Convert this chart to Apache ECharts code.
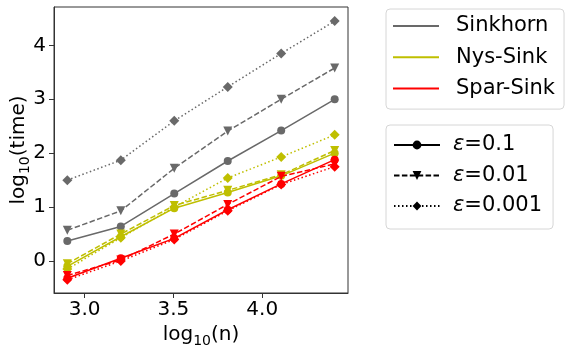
<!DOCTYPE html>
<html>
<head>
<meta charset="utf-8">
<script src="https://cdn.jsdelivr.net/npm/echarts@6/dist/echarts.min.js"></script>
<style>
html, body { margin: 0; padding: 0; background: #fff; }
#chart_time { width: 569px; height: 355px; }
</style>
</head>
<body>
<div id="chart_time"></div>
<script>
//log10(n): n = 800 ... 25600
var logN = [2.903, 3.204, 3.505, 3.806, 4.107, 4.408];
var xTicks = [3.0, 3.5, 4.0];
var yTicks = [0, 1, 2, 3, 4];

//Sinkhorn
var sink_01 = [0.37, 0.64, 1.25, 1.855, 2.42, 3.0];
var sink_001 = [0.57, 0.93, 1.72, 2.41, 3.0, 3.58];
var sink_0001 = [1.50, 1.87, 2.60, 3.23, 3.85, 4.45];
//Nys-Sink
var nys_01 = [-0.10, 0.45, 0.98, 1.27, 1.58, 2.0];
var nys_001 = [-0.05, 0.50, 1.03, 1.31, 1.60, 2.05];
var nys_0001 = [-0.15, 0.43, 1.00, 1.54, 1.93, 2.34];
//Spar-Sink
var spar_01 = [-0.32, 0.05, 0.42, 0.95, 1.43, 1.88];
var spar_001 = [-0.27, 0.02, 0.50, 1.05, 1.57, 1.80];
var spar_0001 = [-0.35, 0.00, 0.40, 0.93, 1.42, 1.75];

var methodNames = ['Sinkhorn', 'Nys-Sink', 'Spar-Sink'];
var methodColors = ['#696969', '#bfbf00', '#ff0000'];
var epsNames = ['ε=0.1', 'ε=0.01', 'ε=0.001'];

var dashType = [5.5, 2.4];
var dotType = [1.5, 2.5];
var epsStyle = [
	{ type: 'solid', symbol: 'circle', size: 8, rotate: 0 },
	{ type: dashType, symbol: 'triangle', size: 9, rotate: 180 },
	{ type: dotType, symbol: 'diamond', size: 10, rotate: 0 }
];

var allData = [
	[sink_01, sink_001, sink_0001],
	[nys_01, nys_001, nys_0001],
	[spar_01, spar_001, spar_0001]
];

function pairs(xs, ys) {
	var out = [];
	for(var i = 0; i < xs.length; i++) {
		out.push([xs[i], ys[i]]);
	}
	return out;
}

var seriesList = [];
//画线
for(var m = 0; m < 3; m++) {
	for(var e = 0; e < 3; e++) {
		seriesList.push({
			name: methodNames[m] + '_' + e,
			type: 'line',
			data: pairs(logN, allData[m][e]),
			symbol: epsStyle[e].symbol,
			symbolSize: epsStyle[e].size,
			symbolRotate: epsStyle[e].rotate,
			itemStyle: { color: methodColors[m] },
			lineStyle: { color: methodColors[m], width: 1.5, type: epsStyle[e].type },
			z: 2 + m,
			silent: true
		});
	}
}
//图例用的空系列
for(var m = 0; m < 3; m++) {
	seriesList.push({
		name: methodNames[m],
		type: 'line',
		data: [],
		symbol: 'none',
		itemStyle: { color: methodColors[m] },
		lineStyle: { color: methodColors[m], width: 1.5 }
	});
}
for(var e = 0; e < 3; e++) {
	seriesList.push({
		name: epsNames[e],
		type: 'line',
		data: [],
		symbol: epsStyle[e].symbol,
		symbolSize: epsStyle[e].size,
		symbolRotate: epsStyle[e].rotate,
		itemStyle: { color: '#000' },
		lineStyle: { color: '#000', width: 1.5, type: epsStyle[e].type }
	});
}

var fontName = 'DejaVu Sans';
var legendText = {
	fontFamily: fontName,
	fontSize: 21,
	color: '#000',
	lineHeight: 21,
	rich: {
		i: { fontFamily: fontName, fontSize: 21, fontStyle: 'italic', color: '#000', lineHeight: 21 }
	}
};
var axisNameRich = {
	a: { fontFamily: fontName, fontSize: 20, color: '#000', lineHeight: 26, verticalAlign: 'middle' },
	s: { fontFamily: fontName, fontSize: 14, color: '#000', lineHeight: 14, verticalAlign: 'bottom' }
};

var option_time = {
	animation: false,
	grid: {
		left: 54,
		top: 7,
		right: 221,
		bottom: 62,
		outerBoundsMode: 'none',
		containLabel: false,
		show: true,
		borderColor: '#333',
		borderWidth: 1
	},
	legend: [{
		orient: 'vertical',
		left: 386,
		top: 9,
		padding: [6.5, 9, 10, 7],
		itemWidth: 46,
		itemHeight: 2,
		itemGap: 10.3,
		selectedMode: false,
		borderColor: '#d6d6d6',
		borderWidth: 1,
		borderRadius: 4,
		textStyle: Object.assign({ padding: [0, 0, 0, 12] }, legendText),
		data: methodNames.map(function(n) {
			return { name: n, icon: 'rect' };
		})
	}, {
		orient: 'vertical',
		left: 386,
		top: 125,
		padding: [9.5, 11, 12.5, 7],
		itemWidth: 46,
		itemHeight: 11,
		itemGap: 9.5,
		selectedMode: false,
		borderColor: '#d6d6d6',
		borderWidth: 1,
		borderRadius: 4,
		textStyle: Object.assign({ padding: [0, 0, 0, 8] }, legendText),
		data: epsNames,
		formatter: function(name) {
			return '{i|ε}' + name.substring(1);
		}
	}],
	xAxis: {
		type: 'value',
		min: 2.828,
		max: 4.483,
		name: '{a|log}{s|10}{a|(n)}',
		nameLocation: 'middle',
		nameGap: 26,
		nameTextStyle: { rich: axisNameRich },
		axisLine: { show: true, onZero: false, lineStyle: { color: '#333' } },
		axisTick: { show: true, length: 5, customValues: xTicks, lineStyle: { color: '#333' } },
		axisLabel: {
			customValues: xTicks,
			margin: 7,
			fontFamily: fontName,
			fontSize: 20,
			color: '#000',
			formatter: function(v) { return v.toFixed(1); }
		},
		splitLine: { show: false }
	},
	yAxis: {
		type: 'value',
		min: -0.594,
		max: 4.712,
		name: '{a|log}{s|10}{a|(time)}',
		nameLocation: 'middle',
		nameGap: 22,
		nameMoveOverlap: false,
		nameTextStyle: { rich: axisNameRich },
		axisLine: { show: true, onZero: false, lineStyle: { color: '#333' } },
		axisTick: { show: true, length: 5, customValues: yTicks, lineStyle: { color: '#333' } },
		axisLabel: {
			customValues: yTicks,
			margin: 8,
			fontFamily: fontName,
			fontSize: 20,
			color: '#000'
		},
		splitLine: { show: false }
	},
	series: seriesList
};

var timeChart = echarts.init(document.getElementById('chart_time'));
timeChart.setOption(option_time);
</script>
</body>
</html>
